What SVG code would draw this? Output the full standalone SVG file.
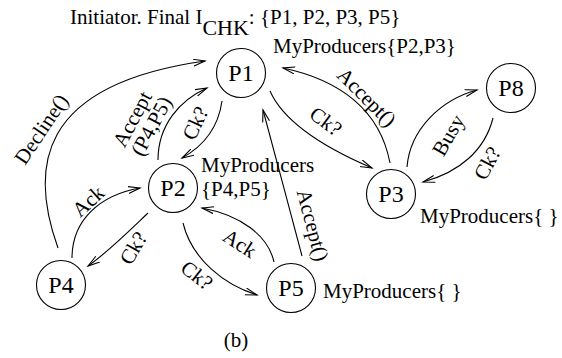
<svg xmlns="http://www.w3.org/2000/svg" width="562" height="358" viewBox="0 0 562 358">
<defs>
<style>
text{font-family:"Liberation Serif","Tinos","DejaVu Serif",serif;fill:#000}
.t{font-size:21px}
.n{font-size:24px;text-anchor:middle}
.l{font-size:21px;text-anchor:middle}
circle{fill:#fff;stroke:#000;stroke-width:1.1}
#edges path{fill:none;stroke:#000;stroke-width:1.1;marker-end:url(#arr)}
</style>
<marker id="arr" markerUnits="userSpaceOnUse" markerWidth="14" markerHeight="10" refX="12" refY="4" orient="auto" viewBox="0 0 14 10">
<path d="M0,0.5 L12,4 L0,7.5" fill="none" stroke="#000" stroke-width="1.1"/>
</marker>
</defs>
<rect width="562" height="358" fill="#fff"/>
<g font-family="Liberation Serif, serif">
<text class="t" x="70" y="24">Initiator. Final I<tspan dy="11" font-size="22">CHK</tspan><tspan dy="-11">: {P1, P2, P3, P5}</tspan></text>
<g id="edges">
<path d="M58,248 C30,170 35,85 205,61"/>
<path d="M158,160 C158,125 180,100 207,88"/>
<path d="M222,101 C218,130 200,148 182,158"/>
<path d="M270,91 C285,125 330,150 372,168"/>
<path d="M390,163 C380,110 340,80 283,68"/>
<path d="M407,167 C410,130 440,100 477,90"/>
<path d="M493,118 C485,150 460,172 423,182"/>
<path d="M72,258 C72,220 100,195 140,188"/>
<path d="M148,213 C125,235 108,252 88,266"/>
<path d="M183,223 C192,260 225,285 257,295"/>
<path d="M274,262 C268,235 240,215 202,208"/>
<path d="M302,256 C290,210 275,155 263,110"/>
</g>
<g id="edge-labels">
<text class="l" dy="0.35em" transform="translate(41,129) rotate(-56)">Decline()</text>
<text class="l" dy="0.35em" transform="translate(132,119) rotate(-62)">Accept</text>
<text class="l" dy="0.35em" transform="translate(151,126) rotate(-62)">(P4,P5)</text>
<text class="l" dy="0.35em" transform="translate(195,123) rotate(-65)">Ck?</text>
<text class="l" dy="0.35em" transform="translate(326,121) rotate(37)">Ck?</text>
<text class="l" dy="0.35em" transform="translate(367,97) rotate(45)">Accept()</text>
<text class="l" dy="0.35em" transform="translate(448,135) rotate(-60)">Busy</text>
<text class="l" dy="0.35em" transform="translate(487,163) rotate(-62)">Ck?</text>
<text class="l" dy="0.35em" transform="translate(88,201) rotate(-42)">Ack</text>
<text class="l" dy="0.35em" transform="translate(133,248) rotate(-60)">Ck?</text>
<text class="l" dy="0.35em" transform="translate(197,275) rotate(38)">Ck?</text>
<text class="l" dy="0.35em" transform="translate(240,243) rotate(33)">Ack</text>
<text class="l" dy="0.35em" transform="translate(313,225) rotate(75)">Accept()</text>
</g>
<g id="P1"><circle cx="241" cy="73" r="24.5"/><text class="n" x="241" y="81">P1</text>
<text class="t" x="273" y="53">MyProducers{P2,P3}</text></g>
<g id="P2"><circle cx="173" cy="188" r="24.5"/><text class="n" x="173" y="196">P2</text>
<text class="t" x="201" y="172">MyProducers</text><text class="t" x="201" y="196">{P4,P5}</text></g>
<g id="P3"><circle cx="391" cy="194" r="24.5"/><text class="n" x="391" y="202">P3</text>
<text class="t" x="420" y="223">MyProducers{ }</text></g>
<g id="P4"><circle cx="61" cy="285" r="24.5"/><text class="n" x="61" y="293">P4</text></g>
<g id="P5"><circle cx="291" cy="288" r="24.5"/><text class="n" x="291" y="296">P5</text>
<text class="t" x="323" y="298">MyProducers{ }</text></g>
<g id="P8"><circle cx="511" cy="88" r="24.5"/><text class="n" x="511" y="96">P8</text></g>
<text class="t" x="236" y="347" text-anchor="middle">(b)</text>
</g>
</svg>
